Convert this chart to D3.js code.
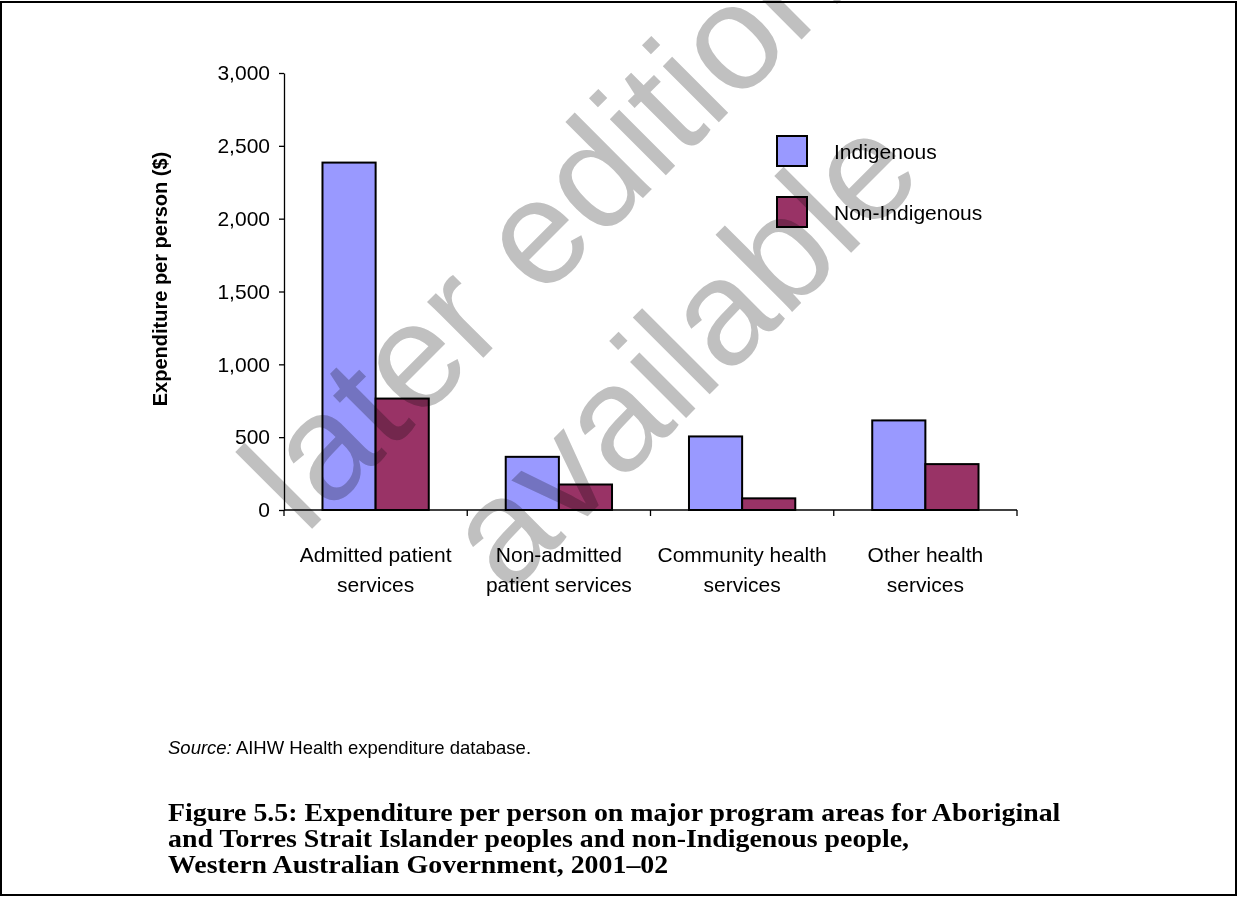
<!DOCTYPE html>
<html>
<head>
<meta charset="utf-8">
<script src="https://cdn.jsdelivr.net/npm/d3@7"></script>
<style>
  html, body { margin: 0; padding: 0; background: #fff; }
  svg { display: block; }
  .sans { font-family: "Liberation Sans", Arial, sans-serif; }
</style>
</head>
<body>
<svg id="chart" width="1238" height="897"></svg>
<script>
// ---- data ----
const categories = ["Admitted patient services", "Non-admitted patient services", "Community health services", "Other health services"];
const categoryLines = [["Admitted patient", "services"], ["Non-admitted", "patient services"], ["Community health", "services"], ["Other health", "services"]];
const seriesNames = ["Indigenous", "Non-Indigenous"];
const indigenous = [2385, 365, 505, 615];
const nonIndigenous = [765, 175, 80, 315];
const yTicks = [0, 500, 1000, 1500, 2000, 2500, 3000];
const yTitle = "Expenditure per person ($)";
const sourceLabel = "Source:";
const sourceText = " AIHW Health expenditure database.";
const captionLines = [
  "Figure 5.5: Expenditure per person on major program areas for Aboriginal",
  "and Torres Strait Islander peoples and non-Indigenous people,",
  "Western Australian Government, 2001\u201302"
];
const watermarkLines = ["later edition", "available"];
const colors = ["#9999FF", "#993366"];

// ---- layout ----
const svg = d3.select("#chart");
const W = 1238, H = 897;
const plot = { left: 284, right: 1017, top: 73, bottom: 510 };

svg.append("rect").attr("x", 1).attr("y", 2).attr("width", W - 3).attr("height", H - 4)
  .attr("fill", "#fff").attr("stroke", "#000").attr("stroke-width", 2);

const x0 = d3.scaleBand().domain(categories).range([plot.left, plot.right]).paddingInner(0).paddingOuter(0);
const groupW = x0.bandwidth() * 0.58;
const x1 = d3.scaleBand().domain(seriesNames)
  .range([(x0.bandwidth() - groupW) / 2, (x0.bandwidth() + groupW) / 2]).padding(0);
const y = d3.scaleLinear().domain([0, 3000]).range([plot.bottom, plot.top]);

const data = categories.map((c, i) => ({ cat: c, values: [indigenous[i], nonIndigenous[i]] }));

// bars
const g = svg.append("g");
data.forEach(d => {
  g.selectAll(null).data(d.values.map((v, j) => ({ s: seriesNames[j], v, j })))
    .enter().append("rect")
    .attr("x", e => x0(d.cat) + x1(e.s))
    .attr("y", e => y(e.v))
    .attr("width", x1.bandwidth())
    .attr("height", e => y(0) - y(e.v))
    .attr("fill", e => colors[e.j])
    .attr("stroke", "#000").attr("stroke-width", 2);
});

// y axis
const yAxis = svg.append("g").attr("transform", `translate(${plot.left},0)`)
  .call(d3.axisLeft(y).tickValues(yTicks).tickSize(5).tickSizeOuter(0).tickPadding(9).tickFormat(d3.format(",")));
yAxis.selectAll("text").style("font-size", "21px").attr("fill", "#000")
  .style("font-family", "Liberation Sans, Arial, sans-serif");
yAxis.selectAll("path, line").attr("stroke", "#000").attr("stroke-width", 1.3);

// x axis
const boundaries = categories.map(c => x0(c)).concat([plot.right]);
const xAxis = svg.append("g");
xAxis.append("line").attr("x1", plot.left).attr("x2", plot.right).attr("y1", y(0)).attr("y2", y(0))
  .attr("stroke", "#000").attr("stroke-width", 1.3);
xAxis.selectAll("line.tick").data(boundaries).enter().append("line").attr("class", "tick")
  .attr("x1", d => d).attr("x2", d => d).attr("y1", y(0)).attr("y2", y(0) + 6)
  .attr("stroke", "#000").attr("stroke-width", 1.3);
categories.forEach((c, i) => {
  const t = xAxis.append("text").attr("class", "sans").attr("text-anchor", "middle")
    .style("font-size", "21px").attr("fill", "#000");
  categoryLines[i].forEach((ln, k) => {
    t.append("tspan").attr("x", x0(c) + x0.bandwidth() / 2).attr("y", 562 + k * 30).text(ln);
  });
});

// y title
svg.append("text").attr("class", "sans").attr("transform", `translate(167,${279}) rotate(-90)`)
  .attr("text-anchor", "middle").style("font-size", "20px").style("font-weight", "bold").text(yTitle);

// legend
const legend = svg.append("g");
seriesNames.forEach((s, i) => {
  legend.append("rect").attr("x", 777).attr("y", 136 + i * 61).attr("width", 30).attr("height", 30)
    .attr("fill", colors[i]).attr("stroke", "#000").attr("stroke-width", 2);
  legend.append("text").attr("class", "sans").attr("x", 834).attr("y", 159 + i * 61)
    .style("font-size", "21px").text(s);
});

// source
const src = svg.append("text").attr("class", "sans").attr("x", 168).attr("y", 754).style("font-size", "18.5px");
src.append("tspan").style("font-style", "italic").text(sourceLabel);
src.append("tspan").text(sourceText);

// caption
const cap = svg.append("g");
const capText = cap.append("text").style("font-family", "Liberation Serif, Times New Roman, serif")
  .style("font-weight", "bold").style("font-size", "25px");
captionLines.forEach((ln, k) => {
  capText.append("tspan").attr("x", 0).attr("y", 0 + k * 26).text(ln);
});
const w1 = capText.select("tspan").node().getComputedTextLength();
cap.attr("transform", `translate(168,821) scale(${893 / w1},1)`);

// watermark
const wm = svg.append("g");
const wmOrigins = [[305, 536], [508, 596]];
watermarkLines.forEach((ln, k) => {
  wm.append("text").attr("class", "sans")
    .attr("transform", `translate(${wmOrigins[k][0]},${wmOrigins[k][1]}) rotate(-45)`)
    .attr("text-anchor", "start").style("font-size", "150px").attr("fill", "#c0c0c0")
    .style("mix-blend-mode", "multiply")
    .text(ln);
});
</script>
</body>
</html>
